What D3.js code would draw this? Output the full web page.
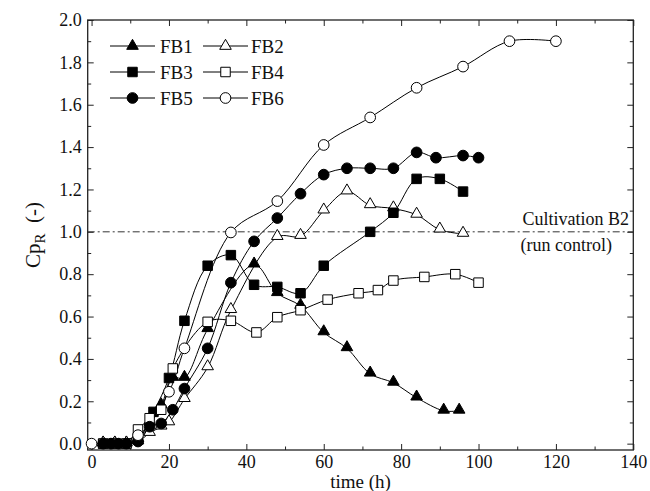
<!DOCTYPE html>
<html><head><meta charset="utf-8">
<script src="https://cdn.jsdelivr.net/npm/d3@7"></script>
<style>
body{margin:0;background:#fff;}
svg{display:block;font-family:"Liberation Serif","Times New Roman",serif;}
</style></head>
<body><svg id="c" width="650" height="491"></svg>
<script>
// ---- data ----
const seriesNames = ["FB1","FB2","FB3","FB4","FB5","FB6"];
const FB1 = [[3,0],[6,0],[9,0],[12,0.02],[15,0.1],[18,0.18],[21,0.31],[24,0.31],[30,0.54],[42,0.845],[48,0.71],[54,0.65],[60,0.525],[66,0.45],[72,0.33],[78,0.287],[84,0.217],[91,0.155],[95,0.155]];
const FB2 = [[3,0],[6,0],[9,0],[12,0.01],[15,0.05],[18,0.08],[20,0.10],[24,0.21],[30,0.36],[36,0.63],[48,0.975],[54,0.98],[60,1.10],[66,1.19],[72,1.125],[78,1.11],[84,1.08],[90,1.01],[96,0.99]];
const FB3 = [[3,0],[6,0],[9,0],[12,0.02],[16,0.15],[20,0.31],[24,0.58],[30,0.84],[36,0.89],[42,0.75],[48,0.74],[54,0.71],[60,0.84],[72,1.0],[78,1.09],[84,1.25],[90,1.25],[96,1.19]];
const FB4 = [[3,0],[6,0],[9,0],[12,0.067],[15,0.12],[18,0.16],[21,0.355],[30,0.575],[36,0.58],[42.6,0.525],[48,0.597],[54,0.63],[61,0.68],[69,0.71],[74,0.725],[78,0.77],[86,0.787],[94,0.80],[100,0.76]];
const FB5 = [[3,0],[5,0],[7,0],[9,0],[12,0.01],[15,0.08],[18,0.095],[21,0.16],[24,0.26],[30,0.45],[36,0.76],[42,0.955],[48,1.065],[54,1.18],[60,1.27],[66,1.30],[72,1.30],[78,1.30],[84,1.375],[89,1.35],[96,1.36],[100,1.35]];
const FB6 = [[0,0],[12,0.04],[20,0.245],[24,0.45],[36,0.997],[48,1.145],[60,1.41],[72,1.54],[84,1.68],[96,1.78],[108,1.90],[120,1.90]];
const xTicks = [0,20,40,60,80,100,120,140];
const yTicks = [0,0.2,0.4,0.6,0.8,1.0,1.2,1.4,1.6,1.8,2.0];
const refValue = 1.0;
const refLabel1 = "Cultivation B2", refLabel2 = "(run control)";

const data = [FB1,FB2,FB3,FB4,FB5,FB6];
const shapes = [d3.symbolTriangle,d3.symbolTriangle,d3.symbolSquare,d3.symbolSquare,d3.symbolCircle,d3.symbolCircle];
const filled = [true,false,true,false,true,false];
const sizes = [58,58,90,90,90,90];

const L=87.7,R=633.3,T=20,B=450;
const x = d3.scaleLinear().domain([-1,140]).range([L,R]);
const y = d3.scaleLinear().domain([-0.03,2.0]).range([B,T]);
const svg = d3.select("#c");
const ax = "#222";

const fmt = d3.format(".1f");
const xMinor = d3.range(0,141,10), yMinor = d3.range(0,2.001,0.1);
function tickGroup(axisFn, scale, vals, len, tr, labels, f){
  const g = svg.append("g").attr("transform",tr);
  g.call(axisFn(scale).tickValues(vals).tickSize(len).tickFormat(labels?f:""));
  g.select(".domain").remove();
  g.selectAll(".tick line").attr("stroke",ax).attr("stroke-width",1);
  g.selectAll(".tick text").attr("font-size",18).attr("fill","#111").attr("font-family",'"Liberation Serif","Times New Roman",serif');
  return g;
}
let gb = tickGroup(d3.axisBottom,x,xTicks,-6,`translate(0,${B})`,true,d3.format("d"));
gb.selectAll(".tick text").attr("y",5).attr("dy","0.71em");
tickGroup(d3.axisBottom,x,xMinor.filter(v=>v%20),-3.5,`translate(0,${B})`,false);
tickGroup(d3.axisTop,x,xTicks,-6,`translate(0,${T})`,false);
tickGroup(d3.axisTop,x,xMinor.filter(v=>v%20),-3.5,`translate(0,${T})`,false);
let gl = tickGroup(d3.axisLeft,y,yTicks,-6,`translate(${L},0)`,true,fmt);
gl.selectAll(".tick text").attr("x",-6);
tickGroup(d3.axisLeft,y,yMinor.filter((v,i)=>i%2),-3.5,`translate(${L},0)`,false);
tickGroup(d3.axisRight,y,yTicks,-6,`translate(${R},0)`,false);
tickGroup(d3.axisRight,y,yMinor.filter((v,i)=>i%2),-3.5,`translate(${R},0)`,false);

svg.append("rect").attr("x",L).attr("y",T).attr("width",R-L).attr("height",B-T)
  .attr("fill","none").attr("stroke",ax).attr("stroke-width",1.3);

svg.append("line").attr("x1",L).attr("x2",R).attr("y1",y(refValue)).attr("y2",y(refValue))
  .attr("stroke","#333").attr("stroke-width",1).attr("stroke-dasharray","7,3,2,3");
svg.append("text").attr("x",629).attr("y",y(refValue)-7).attr("text-anchor","end")
  .attr("font-size",18).attr("fill","#111").text(refLabel1);
svg.append("text").attr("x",612).attr("y",y(refValue)+19).attr("text-anchor","end")
  .attr("font-size",18).attr("fill","#111").text(refLabel2);

const line = d3.line().x(d=>x(d[0])).y(d=>y(d[1])).curve(d3.curveCatmullRom.alpha(0.5));
data.forEach((s,i)=>{
  svg.append("path").attr("d",line(s)).attr("fill","none").attr("stroke","#000").attr("stroke-width",1);
});
data.forEach((s,i)=>{
  svg.append("g").selectAll("path").data(s).join("path")
    .attr("d",d3.symbol().type(shapes[i]).size(sizes[i]))
    .attr("transform",d=>`translate(${x(d[0])},${y(d[1]) + (shapes[i]===d3.symbolTriangle?-1:0)})`)
    .attr("fill",filled[i]?"#000":"#fff").attr("stroke","#000").attr("stroke-width",1);
});

const legX=[110,203], legTX=[160,251], legY=[46,72,98];
seriesNames.forEach((n,i)=>{
  const c=i%2, r=Math.floor(i/2);
  const lx=legX[c], ly=legY[r];
  svg.append("line").attr("x1",lx).attr("x2",lx+45).attr("y1",ly).attr("y2",ly).attr("stroke","#000").attr("stroke-width",1);
  svg.append("path").attr("d",d3.symbol().type(shapes[i]).size(sizes[i])())
    .attr("transform",`translate(${lx+22.5},${ly})`)
    .attr("fill",filled[i]?"#000":"#fff").attr("stroke","#000").attr("stroke-width",1);
  svg.append("text").attr("x",legTX[c]).attr("y",ly+6.5).attr("font-size",19).attr("fill","#111").text(n);
});

svg.append("text").attr("x",(L+R)/2).attr("y",488).attr("text-anchor","middle").attr("font-size",19).attr("fill","#111").text("time (h)");
const yt = svg.append("text").attr("transform",`translate(40,${(T+B)/2}) rotate(-90)`).attr("text-anchor","middle").attr("font-size",21).attr("fill","#111");
yt.append("tspan").text("Cp");
yt.append("tspan").attr("font-size",15).attr("dy",5).text("R");
yt.append("tspan").attr("dy",-5).text("\u00a0 (-)");
</script></body></html>
